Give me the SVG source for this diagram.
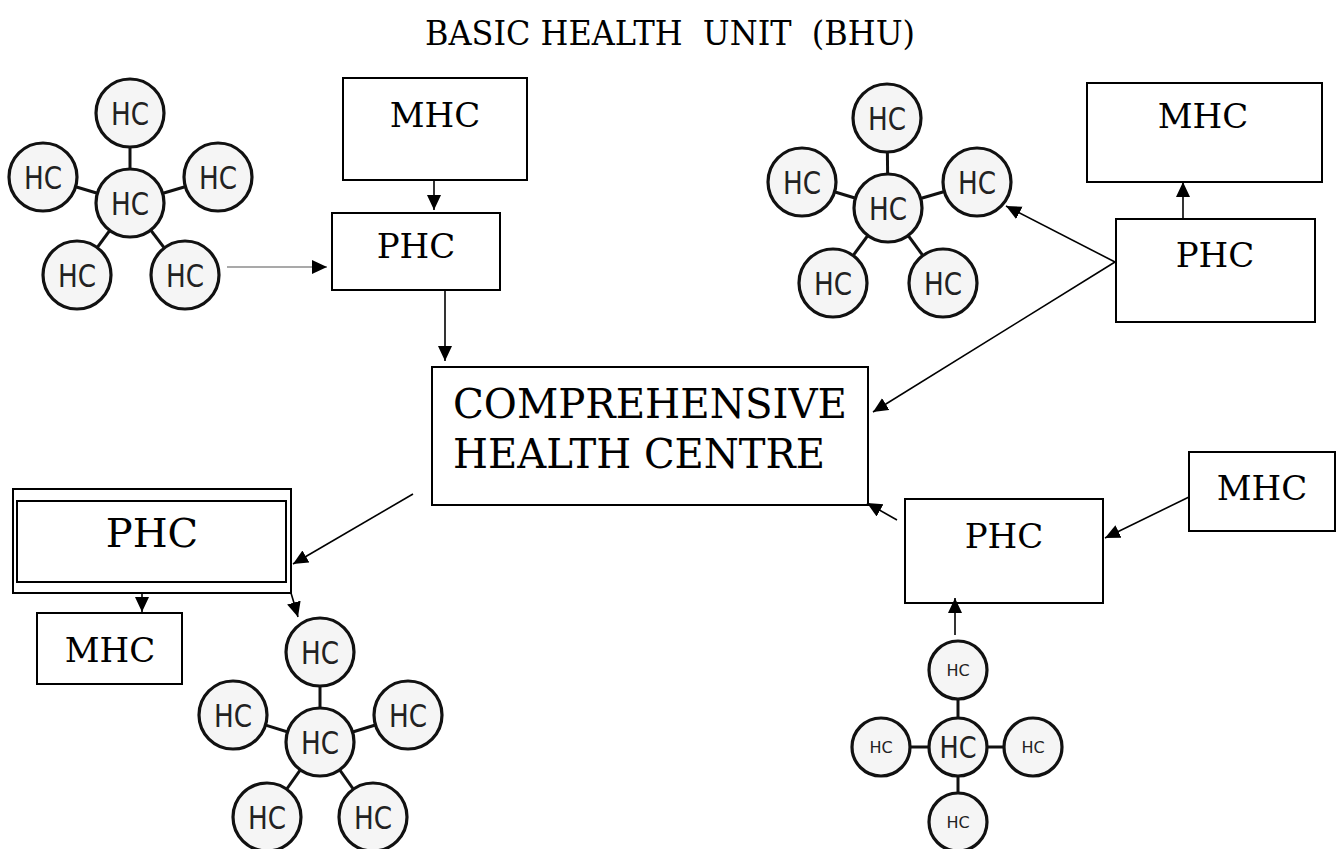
<svg xmlns="http://www.w3.org/2000/svg" width="1342" height="849" viewBox="0 0 1342 849">
<style>
.box{fill:#fff;stroke:#000;stroke-width:2}
.lbl{font-family:"DejaVu Serif","Liberation Serif",serif;fill:#000;text-anchor:middle}
.hc{fill:#f5f5f5;stroke:#111;stroke-width:3.2}
.hct{font-family:"DejaVu Sans","Liberation Sans",sans-serif;fill:#222;text-anchor:middle}
.lnk{stroke:#111;stroke-width:3}
.con{stroke:#000;stroke-width:1.6;fill:none;marker-end:url(#ah)}
</style>
<defs>
<marker id="ah" markerUnits="userSpaceOnUse" markerWidth="16" markerHeight="16" refX="15" refY="7" orient="auto">
<path d="M0,0 L15,7 L0,14 z" fill="#000"/>
</marker>
</defs>
<rect width="1342" height="849" fill="#fff"/>
<g id="title"><text class="lbl" x="670" y="45" font-size="33" style="white-space:pre" textLength="490" lengthAdjust="spacingAndGlyphs">BASIC HEALTH  UNIT  (BHU)</text></g>

<g id="cluster1">
<line class="lnk" x1="130" y1="203" x2="130" y2="113"/><line class="lnk" x1="130" y1="203" x2="43" y2="177"/><line class="lnk" x1="130" y1="203" x2="218" y2="177"/><line class="lnk" x1="130" y1="203" x2="77" y2="275"/><line class="lnk" x1="130" y1="203" x2="185" y2="275"/>
<circle class="hc" cx="130" cy="113" r="34"/><circle class="hc" cx="43" cy="177" r="34"/><circle class="hc" cx="218" cy="177" r="34"/><circle class="hc" cx="77" cy="275" r="34"/><circle class="hc" cx="185" cy="275" r="34"/><circle class="hc" cx="130" cy="203" r="34"/>
<g class="hct" font-size="32">
<text x="130" y="125" textLength="38" lengthAdjust="spacingAndGlyphs">HC</text><text x="43" y="189" textLength="38" lengthAdjust="spacingAndGlyphs">HC</text><text x="218" y="189" textLength="38" lengthAdjust="spacingAndGlyphs">HC</text><text x="77" y="287" textLength="38" lengthAdjust="spacingAndGlyphs">HC</text><text x="185" y="287" textLength="38" lengthAdjust="spacingAndGlyphs">HC</text><text x="130" y="215" textLength="38" lengthAdjust="spacingAndGlyphs">HC</text>
</g>
</g>

<g id="cluster2">
<line class="lnk" x1="888" y1="208" x2="887" y2="118"/><line class="lnk" x1="888" y1="208" x2="802" y2="182"/><line class="lnk" x1="888" y1="208" x2="977" y2="182"/><line class="lnk" x1="888" y1="208" x2="833" y2="283"/><line class="lnk" x1="888" y1="208" x2="943" y2="283"/>
<circle class="hc" cx="887" cy="118" r="34"/><circle class="hc" cx="802" cy="182" r="34"/><circle class="hc" cx="977" cy="182" r="34"/><circle class="hc" cx="833" cy="283" r="34"/><circle class="hc" cx="943" cy="283" r="34"/><circle class="hc" cx="888" cy="208" r="34"/>
<g class="hct" font-size="32">
<text x="887" y="130" textLength="38" lengthAdjust="spacingAndGlyphs">HC</text><text x="802" y="194" textLength="38" lengthAdjust="spacingAndGlyphs">HC</text><text x="977" y="194" textLength="38" lengthAdjust="spacingAndGlyphs">HC</text><text x="833" y="295" textLength="38" lengthAdjust="spacingAndGlyphs">HC</text><text x="943" y="295" textLength="38" lengthAdjust="spacingAndGlyphs">HC</text><text x="888" y="220" textLength="38" lengthAdjust="spacingAndGlyphs">HC</text>
</g>
</g>

<g id="cluster3">
<line class="lnk" x1="320" y1="742" x2="320" y2="652"/><line class="lnk" x1="320" y1="742" x2="233" y2="715"/><line class="lnk" x1="320" y1="742" x2="408" y2="715"/><line class="lnk" x1="320" y1="742" x2="267" y2="817"/><line class="lnk" x1="320" y1="742" x2="373" y2="817"/>
<circle class="hc" cx="320" cy="652" r="34"/><circle class="hc" cx="233" cy="715" r="34"/><circle class="hc" cx="408" cy="715" r="34"/><circle class="hc" cx="267" cy="817" r="34"/><circle class="hc" cx="373" cy="817" r="34"/><circle class="hc" cx="320" cy="742" r="34"/>
<g class="hct" font-size="32">
<text x="320" y="664" textLength="38" lengthAdjust="spacingAndGlyphs">HC</text><text x="233" y="727" textLength="38" lengthAdjust="spacingAndGlyphs">HC</text><text x="408" y="727" textLength="38" lengthAdjust="spacingAndGlyphs">HC</text><text x="267" y="829" textLength="38" lengthAdjust="spacingAndGlyphs">HC</text><text x="373" y="829" textLength="38" lengthAdjust="spacingAndGlyphs">HC</text><text x="320" y="754" textLength="38" lengthAdjust="spacingAndGlyphs">HC</text>
</g>
</g>

<g id="cluster4">
<line class="lnk" x1="958" y1="747" x2="958" y2="670"/><line class="lnk" x1="958" y1="747" x2="881" y2="747"/><line class="lnk" x1="958" y1="747" x2="1033" y2="747"/><line class="lnk" x1="958" y1="747" x2="958" y2="822"/>
<circle class="hc" cx="958" cy="670" r="29"/><circle class="hc" cx="881" cy="747" r="29"/><circle class="hc" cx="1033" cy="747" r="29"/><circle class="hc" cx="958" cy="822" r="29"/><circle class="hc" cx="958" cy="747" r="29"/>
<g class="hct" font-size="16">
<text x="958" y="676">HC</text><text x="881" y="753">HC</text><text x="1033" y="753">HC</text><text x="958" y="828">HC</text>
</g>
<text class="hct" x="958" y="758" font-size="30" textLength="37" lengthAdjust="spacingAndGlyphs">HC</text>
</g>

<g id="mhc-top"><rect class="box" x="343" y="78" width="184" height="102"/><text class="lbl" x="435" y="127" font-size="34">MHC</text></g>
<g id="phc-top"><rect class="box" x="332" y="213" width="168" height="77"/><text class="lbl" x="416" y="258" font-size="34">PHC</text></g>
<g id="chc"><rect class="box" x="432" y="367" width="436" height="138"/>
<text class="lbl" x="650" y="418" font-size="41" textLength="394" lengthAdjust="spacingAndGlyphs">COMPREHENSIVE</text>
<text class="lbl" x="639" y="468" font-size="41" textLength="372" lengthAdjust="spacingAndGlyphs">HEALTH CENTRE</text></g>
<g id="mhc-tr"><rect class="box" x="1087" y="83" width="235" height="99"/><text class="lbl" x="1203" y="128" font-size="34">MHC</text></g>
<g id="phc-tr"><rect class="box" x="1116" y="219" width="199" height="103"/><text class="lbl" x="1215" y="267" font-size="34">PHC</text></g>
<g id="mhc-r"><rect class="box" x="1189" y="452" width="146" height="79"/><text class="lbl" x="1262" y="500" font-size="34">MHC</text></g>
<g id="phc-r"><rect class="box" x="905" y="499" width="198" height="104"/><text class="lbl" x="1004" y="548" font-size="34">PHC</text></g>
<g id="phc-bl"><rect class="box" x="13" y="489" width="278" height="104"/><rect class="box" x="17" y="501" width="269" height="81"/><text class="lbl" x="152" y="547" font-size="40">PHC</text></g>
<g id="mhc-bl"><rect class="box" x="37" y="613" width="145" height="71"/><text class="lbl" x="110" y="662" font-size="34">MHC</text></g>

<g id="connectors">
<line class="con" x1="227" y1="267" x2="327" y2="267" style="stroke:#555;stroke-width:1.2"/>
<line class="con" x1="434" y1="180" x2="434" y2="210"/>
<line class="con" x1="445" y1="290" x2="445" y2="361"/>
<line class="con" x1="1183" y1="219" x2="1183" y2="182"/>
<line class="con" x1="1115" y1="262" x2="1006" y2="206"/>
<line class="con" x1="1115" y1="262" x2="873" y2="412"/>
<line class="con" x1="1189" y1="497" x2="1105" y2="538"/>
<line class="con" x1="897" y1="520" x2="867" y2="503"/>
<line class="con" x1="955" y1="635" x2="955" y2="598"/>
<line class="con" x1="413" y1="494" x2="293" y2="564"/>
<line class="con" x1="142" y1="593" x2="142" y2="612"/>
<path class="con" d="M291,593 L294,603 L298,617"/>
</g>
</svg>
